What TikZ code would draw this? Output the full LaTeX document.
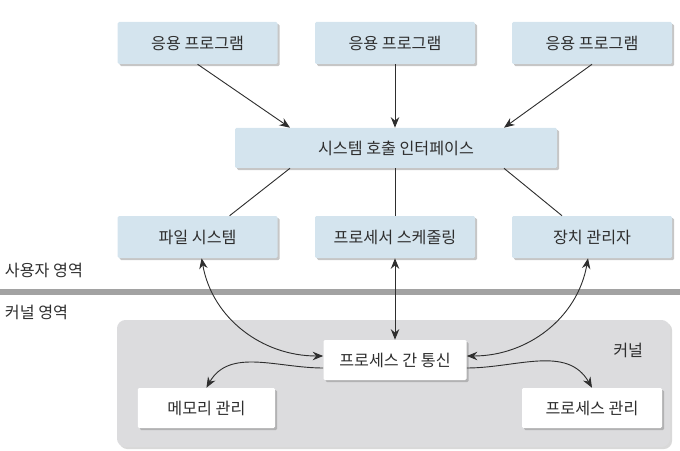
\documentclass[tikz,border=0pt]{standalone}
\usepackage{fontspec}
\setmainfont{Noto Sans CJK KR}
\usetikzlibrary{arrows.meta,shadows}
\definecolor{boxblue}{HTML}{D4E4EE}
\definecolor{kernelgray}{HTML}{DCDCDE}
\definecolor{linegray}{HTML}{A2A2A2}
\definecolor{ink}{HTML}{2E2E2E}
\tikzset{
  bluebox/.style={draw=none,fill=boxblue,rounded corners=1pt,minimum width=4cm,minimum height=1.05cm,
    drop shadow={shadow xshift=1.5pt,shadow yshift=-1.5pt,opacity=0.45}},
  whitebox/.style={draw=none,fill=white,rounded corners=1pt,minimum height=1cm,
    drop shadow={shadow xshift=1.5pt,shadow yshift=-1.5pt,opacity=0.45}},
  link/.style={draw=ink,line width=0.65pt},
  arr/.style={link,-{Stealth[length=7.5pt,width=6pt]}},
  darr/.style={link,{Stealth[length=7.5pt,width=6pt]}-{Stealth[length=7.5pt,width=6pt]}}
}
\begin{document}
\begin{tikzpicture}[font=\fontsize{11.5}{13}\selectfont,text=ink]
        \useasboundingbox (0,0) rectangle (17,11.25);

        % kernel area
        \fill[kernelgray,rounded corners=6pt,
          drop shadow={shadow xshift=1.5pt,shadow yshift=-1.5pt,opacity=0.3}] (2.925,0.075) rectangle (16.75,3.25);
        \node[anchor=east] (kernel) at (16.2,2.5) {커널};

        % separator
        \path[draw,linegray,line width=4pt] (0,3.95) -- (17,3.95);
        \node[anchor=west] (user) at (0,4.5) {사용자 영역};
        \node[anchor=west] (kspace) at (0,3.43) {커널 영역};

        \node[bluebox] (app1) at (4.94,10.175) {응용 프로그램};
        \node[bluebox] (app2) at (9.875,10.175) {응용 프로그램};
        \node[bluebox] (app3) at (14.8,10.175) {응용 프로그램};

        \node[bluebox,minimum width=8.05cm,minimum height=1cm] (sci) at (9.9,7.55) {시스템 호출 인터페이스};

        \node[bluebox] (fs) at (4.94,5.325) {파일 시스템};
        \node[bluebox] (sched) at (9.875,5.325) {프로세서 스케줄링};
        \node[bluebox] (dev) at (14.8,5.325) {장치 관리자};

        \node[whitebox,minimum width=3.575cm] (ipc) at (9.875,2.25) {프로세스 간 통신};
        \node[whitebox,minimum width=3.43cm] (mem) at (5.16,1.05) {메모리 관리};
        \node[whitebox,minimum width=3.5cm] (pm) at (14.8,1.05) {프로세스 관리};

        \path[arr] (app1.south) -- ([xshift=-2.65cm]sci.north);
        \path[arr] (app2.south) -- (app2.south |- sci.north);
        \path[arr] (app3.south) -- ([xshift=2.7cm]sci.north);

        \path[link] ([xshift=-2.65cm]sci.south) -- ([xshift=0.8cm]fs.north);
        \path[link] (sched.north |- sci.south) -- (sched.north);
        \path[link] ([xshift=2.7cm]sci.south) -- ([xshift=-0.75cm]dev.north);

        \path[darr] ([xshift=0.1cm]fs.south) to[out=-80,in=180] ([yshift=0.1cm]ipc.west);
        \path[darr] (sched.south) -- (ipc.north);
        \path[darr] ([xshift=-0.1cm]dev.south) to[out=-100,in=0] ([yshift=0.1cm]ipc.east);

        \path[arr] ([yshift=-0.2cm]ipc.west) to[out=180,in=60] (mem.north);
        \path[arr] ([yshift=-0.2cm]ipc.east) to[out=0,in=120] (pm.north);
\end{tikzpicture}
\end{document}
